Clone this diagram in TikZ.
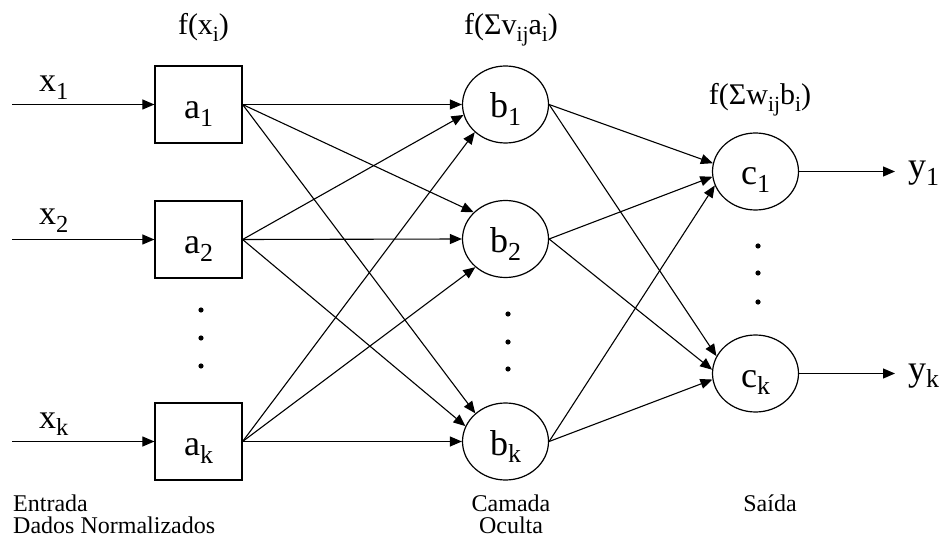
\documentclass[tikz,border=0pt]{standalone}
\usepackage{fontspec}
\setmainfont{Liberation Serif}
\usetikzlibrary{arrows.meta,shapes.geometric}
\newcommand\lo[1]{\raisebox{-0.22em}{\scalebox{0.72}{#1}}}
\tikzset{
  conn/.style={line width=1.1pt, -{Triangle[length=12pt,width=10pt]}},
  unitbox/.style={draw, line width=1.2pt, rectangle, minimum width=87pt, minimum height=77pt, inner sep=0pt,
    text height=28pt, text depth=0pt, font=\fontsize{36}{40}\selectfont},
  unitell/.style={draw, line width=1.2pt, ellipse, minimum width=86pt, minimum height=77pt, inner sep=0pt,
    text height=27pt, text depth=0pt, font=\fontsize{36}{40}\selectfont},
  biglab/.style={inner sep=0pt, anchor=base west, font=\fontsize{34}{40}\selectfont},
  flab/.style={inner sep=0pt, anchor=base, font=\fontsize{30}{34}\selectfont},
  botlab/.style={inner sep=0pt, font=\fontsize{24}{26}\selectfont},
  dotty/.style={fill=black}
}
\begin{document}
\begin{tikzpicture}[x=1pt,y=-1pt]
\useasboundingbox (0,0) rectangle (945,537);
% units
\node[unitbox] (a1) at (198.5,104.5) {a\lo{1}};
\node[unitbox] (a2) at (198.5,239.5) {a\lo{2}};
\node[unitbox] (ak) at (198.5,441.5) {a\lo{k}};
\node[unitell] (b1) at (505.5,104.5) {b\lo{1}};
\node[unitell] (b2) at (505.5,239) {b\lo{2}};
\node[unitell] (bk) at (505.5,441.5) {b\lo{k}};
\node[unitell] (c1) at (755.5,171.5) {c\lo{1}};
\node[unitell] (ck) at (755.5,373.5) {c\lo{k}};
% inputs
\coordinate (i1) at (12,104.5);
\coordinate (i2) at (12,239.5);
\coordinate (ik) at (12,441.5);
\draw[conn] (i1) -- (a1.west);
\draw[conn] (i2) -- (a2.west);
\draw[conn] (ik) -- (ak.west);
\node[biglab] (x1) at (39,92) {x\lo{1}};
\node[biglab] (x2) at (39,225) {x\lo{2}};
\node[biglab] (xk) at (39,428) {x\lo{k}};
% outputs
\coordinate (o1) at (895,171.5);
\coordinate (ok) at (895,373.5);
\draw[conn] (c1.east) -- (o1);
\draw[conn] (ck.east) -- (ok);
\node[biglab, font=\fontsize{36}{40}\selectfont] (y1) at (908,178) {y\lo{1}};
\node[biglab, font=\fontsize{36}{40}\selectfont] (yk) at (908,380) {y\lo{k}};
% a -> b
\foreach \s/\t/\ang in {a1/b1/180, a2/b1/194, ak/b1/222, a1/b2/140, a2/b2/180, ak/b2/223, a1/bk/137, a2/bk/159, ak/bk/180}
  \draw[conn] (\s.east) -- (\t.\ang);
% b -> c
\foreach \s/\t/\ang in {b1/c1/169, b2/c1/187, bk/c1/199, b1/ck/156, b2/ck/175, bk/ck/188}
  \draw[conn] (\s.east) -- (\t.\ang);
% dots
\foreach \y in {310,338,366} \fill[dotty] (201,\y) circle (2.6pt);
\foreach \y in {314,342,369} \fill[dotty] (508,\y) circle (2.6pt);
\foreach \y in {246,273,302} \fill[dotty] (758,\y) circle (2.6pt);
% function labels
\node[flab] (fa) at (203.5,35) {f(x\lo{i})};
\node[flab] (fb) at (511,35) {f(Σv\lo{ij}a\lo{i})};
\node[flab] (fc) at (760,105) {f(Σw\lo{ij}b\lo{i})};
% bottom labels
\node[botlab, anchor=base west] (ent1) at (13,511) {Entrada};
\node[botlab, anchor=base west] (ent2) at (13,533) {Dados Normalizados};
\node[botlab, anchor=base] (cam1) at (511,511) {Camada};
\node[botlab, anchor=base] (cam2) at (511,533) {Oculta};
\node[botlab, anchor=base] (sai) at (770,511) {Saída};
\end{tikzpicture}
\end{document}
